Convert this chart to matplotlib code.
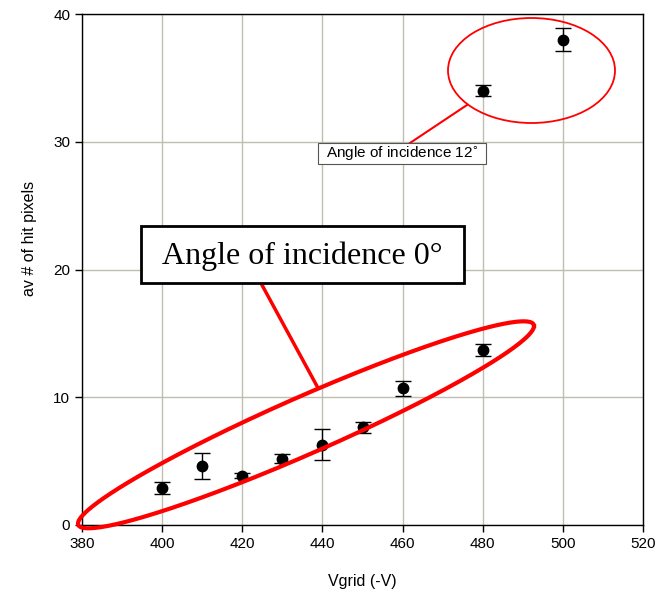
import numpy as np
import matplotlib
matplotlib.use("Agg")
import matplotlib.pyplot as plt
from matplotlib.patches import Ellipse, Rectangle

plt.rcParams['font.family'] = ['Liberation Sans', 'DejaVu Sans']

# angle of incidence 0 deg
vgrid0 = [400, 410, 420, 430, 440, 450, 460, 480]
hits0 = [2.9, 4.6, 3.85, 5.2, 6.3, 7.65, 10.7, 13.7]
err0 = [0.45, 1.0, 0.2, 0.35, 1.25, 0.45, 0.6, 0.5]

# angle of incidence 12 deg
vgrid12 = [480, 500]
hits12 = [34.0, 38.0]
err12 = [0.45, 0.9]

xticks = [380, 400, 420, 440, 460, 480, 500, 520]
yticks = [0, 10, 20, 30, 40]

W, H = 664, 592
fig = plt.figure(figsize=(W / 100, H / 100), dpi=100)
ax = fig.add_axes([82 / W, 1 - 525 / H, (643 - 82) / W, (525 - 14) / H])

ax.errorbar(vgrid0 + vgrid12, hits0 + hits12, yerr=err0 + err12, fmt='o',
            color='black', ms=7.5, capsize=6, elinewidth=1, capthick=1, zorder=3)

ax.set_xlim(380, 520)
ax.set_ylim(0, 40)
ax.set_xticks(xticks)
ax.set_yticks(yticks)
ax.tick_params(direction='out', length=5, labelsize=11, width=1)
ax.grid(True, color='#bdbdb2', lw=1)
for s in ax.spines.values():
    s.set_linewidth(1)
ax.set_xlabel('Vgrid (-V)', fontsize=11.5, labelpad=17)
ax.set_ylabel('av # of hit pixels', fontsize=11.5)
ax.yaxis.set_label_coords(-0.08, 0.56)


def px(x, y):
    # pixel position -> inches from bottom-left
    return x / 100, (H - y) / 100


tr = fig.dpi_scale_trans

# small ellipse around the 12 deg points
cx, cy = px(531.5, 70.5)
fig.add_artist(Ellipse((cx, cy), 1.67, 1.05, transform=tr, fill=False,
                       edgecolor='red', lw=1.3, zorder=5))
fig.add_artist(plt.Line2D(*zip(px(467, 105), px(410, 143)), transform=tr,
                          color='red', lw=1.5, zorder=5))
fig.add_artist(Rectangle(px(318, 164), 1.68, 0.21, transform=tr, fc='white',
                         ec='#555555', lw=0.8, zorder=6))
bx, by = px(402, 154)
fig.text(bx, by, 'Angle of incidence 12$^{\\circ}$', transform=tr, fontsize=11,
         ha='center', va='center', zorder=7)

# big slanted ellipse around the 0 deg points
t = np.linspace(0, 2 * np.pi, 400)
ex = 306 + 228 * np.cos(t)
ey = 424.8 - 0.433 * 228 * np.cos(t) + 31 * np.sin(t)
exi, eyi = px(ex, ey)
fig.add_artist(plt.Line2D(exi, eyi, transform=tr, color='red', lw=3, zorder=5))
fig.add_artist(plt.Line2D(*zip(px(318, 388), px(262, 285)), transform=tr,
                          color='red', lw=2.5, zorder=5))
fig.add_artist(Rectangle(px(141, 283), 3.23, 0.57, transform=tr, fc='white',
                         ec='black', lw=2, zorder=6))
bx, by = px(302.5, 256)
fig.text(bx, by, 'Angle of incidence 0°', transform=tr, fontsize=23,
         family=['Liberation Serif', 'DejaVu Serif'], ha='center', va='center',
         zorder=7)

fig.savefig('out.png', dpi=100)
